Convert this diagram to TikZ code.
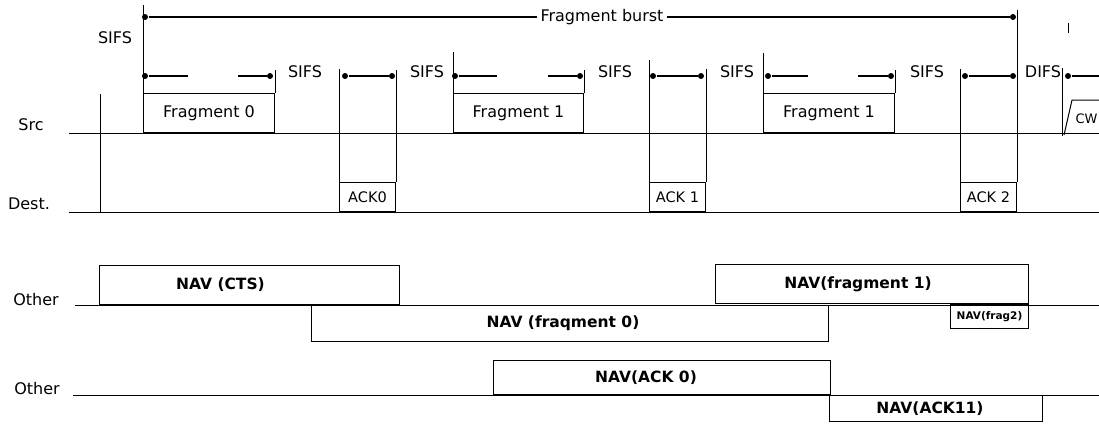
\documentclass[tikz,border=0pt]{standalone}
\usepackage{fontspec}
\setmainfont{DejaVu Sans}
\usetikzlibrary{positioning}

\begin{document}
\begin{tikzpicture}[
        x=1pt, y=-1pt,
        line width=1pt,
        lbl/.style={font=\fontsize{16}{18}\selectfont, inner sep=0pt},
        frame/.style={draw, anchor=south west, inner sep=0pt, font=\fontsize{16}{18}\selectfont},
        ackbox/.style={frame, font=\fontsize{14.5}{16}\selectfont},
        navbox/.style={draw, inner sep=0pt},
        navtxt/.style={font=\bfseries\fontsize{15.5}{17}\selectfont, inner sep=0pt},
        dot/.style={circle, fill, inner sep=0pt, minimum size=6pt},
        seg/.style={line width=1.8pt}
    ]
        \useasboundingbox (0,0) rectangle (1099,423);

        % station axes
        \node[lbl] (src) at (31,125) {Src};
        \node[lbl] (dest) at (29,204) {Dest.};
        \coordinate (srcL) at (69,133);
        \coordinate (srcR) at (1099,133);
        \coordinate (destL) at (69,212);
        \coordinate (destR) at (1099,212);
        \draw (srcL) -- (srcR);
        \draw (destL) -- (destR);
        \coordinate (start) at (100,94);
        \draw (start) -- (start |- destL);

        % frames on the medium
        \node[frame, minimum width=131pt, minimum height=39pt] (frag0) at (143,133) {Fragment 0};
        \node[ackbox, minimum width=56pt, minimum height=29pt] (ack0) at (339,212) {ACK0};
        \node[frame, minimum width=130pt, minimum height=39pt] (frag1) at (453,133) {Fragment 1};
        \node[ackbox, minimum width=56pt, minimum height=29pt] (ack1) at (649,212) {ACK 1};
        \node[frame, minimum width=131pt, minimum height=39pt] (frag2) at (763,133) {Fragment 1};
        \node[ackbox, minimum width=56pt, minimum height=29pt] (ack2) at (960,212) {ACK 2};

        \draw (frag0.north west) -- ++(0,-88);
        \draw (frag0.north east) -- ++(0,-23);
        \draw (ack0.north west) -- ++(0,-113);
        \draw (ack0.north east) -- ++(0,-112);
        \draw (frag1.north west) -- ++(0,-41);
        \draw (frag1.north east) -- ++(0,-23);
        \draw (ack1.north west) -- ++(0,-122);
        \draw (ack1.north east) -- ++(0,-113);
        \draw (frag2.north west) -- ++(0,-40);
        \draw (frag2.north east) -- ++(0,-23);
        \draw (ack2.north west) -- ++(0,-113);
        \draw (ack2.north east) -- ++(0,-172);

        % fragment burst
        \node[dot] (burstL) at (145,17) {};
        \node[dot] (burstR) at (1013,17) {};
        \node[lbl, fill=white, inner xsep=3pt] (burst) at (602,17) {Fragment burst};
        \draw[seg] (burstL) -- (burst) -- (burstR);

        % interframe spaces
        \node[lbl] (sifs0) at (115,38) {SIFS};
        \node[lbl] (sifs1) at (305,72) {SIFS};
        \node[lbl] (sifs2) at (427,72) {SIFS};
        \node[lbl] (sifs3) at (615,72) {SIFS};
        \node[lbl] (sifs4) at (737,72) {SIFS};
        \node[lbl] (sifs5) at (927,72) {SIFS};
        \node[lbl] (difs) at (1043,72) {DIFS};

        % frame durations
        \node[dot] (f0a) at (145,76) {};
        \node[dot] (f0b) at (270,76) {};
        \draw[seg] (f0a) -- ++(43,0);
        \draw[seg] (f0b) -- ++(-32,0);
        \node[dot] (a0a) at (345,76) {};
        \node[dot] (a0b) at (392,76) {};
        \draw[seg] (a0a) -- (a0b);
        \node[dot] (f1a) at (455,76) {};
        \node[dot] (f1b) at (580,76) {};
        \draw[seg] (f1a) -- ++(42,0);
        \draw[seg] (f1b) -- ++(-32,0);
        \node[dot] (a1a) at (653,76) {};
        \node[dot] (a1b) at (701,76) {};
        \draw[seg] (a1a) -- (a1b);
        \node[dot] (f2a) at (768,76) {};
        \node[dot] (f2b) at (891,76) {};
        \draw[seg] (f2a) -- ++(40,0);
        \draw[seg] (f2b) -- ++(-33,0);
        \node[dot] (a2a) at (965,76) {};
        \node[dot] (a2b) at (1013,76) {};
        \draw[seg] (a2a) -- (a2b);

        % contention window
        \coordinate (difsEnd) at (1062,136);
        \draw (difsEnd) -- ++(0,-68);
        \draw (1068,23) -- (1068,33);
        \node[dot] (cwa) at (1068,76) {};
        \coordinate (cwb) at (1099,76);
        \draw[seg] (cwa) -- (cwb);
        \coordinate (cwfoot) at (1064,135);
        \draw (cwfoot) -- ++(8,-35) -- ++(27,0);
        \node[lbl, font=\fontsize{13}{15}\selectfont, anchor=west] (cw) at (1075,119) {CW};

        % other stations
        \node[lbl] (oth1) at (36,300) {Other};
        \node[lbl] (oth2) at (37,389) {Other};
        \coordinate (oth1L) at (75,305);
        \coordinate (oth1R) at (1099,305);
        \coordinate (oth2L) at (73,395);
        \coordinate (oth2R) at (1099,395);
        \draw (oth1L) -- (oth1R);
        \draw (oth2L) -- (oth2R);

        \node[navbox, anchor=south west, minimum width=300pt, minimum height=39pt] (navcts) at (99,305) {};
        \node[navbox, anchor=north west, minimum width=517pt, minimum height=36pt] (navf0) at (311,305) {};
        \node[navbox, anchor=south west, minimum width=313pt, minimum height=39pt] (navf1) at (715,304) {};
        \node[navbox, anchor=north west, minimum width=78pt, minimum height=24pt] (navf2) at (950,304) {};
        \node[navbox, anchor=south west, minimum width=337pt, minimum height=34pt] (navack0) at (493,395) {};
        \node[navbox, anchor=north west, minimum width=213pt, minimum height=26pt] (navack1) at (829,395) {};

        \node[navtxt] (ctstxt) at ([xshift=-29pt]navcts.center) {NAV (CTS)};
        \node[navtxt] (f0txt) at ([xshift=-7pt]navf0.center) {NAV (fraqment 0)};
        \node[navtxt] (f1txt) at ([xshift=-14pt]navf1.center) {NAV(fragment 1)};
        \node[navtxt, font=\bfseries\fontsize{10.5}{12}\selectfont] (f2txt) at (navf2.center) {NAV(frag2)};
        \node[navtxt] (ack0txt) at ([xshift=-16pt]navack0.center) {NAV(ACK 0)};
        \node[navtxt] (ack1txt) at ([xshift=-6pt]navack1.center) {NAV(ACK11)};
    \end{tikzpicture}
\end{document}
